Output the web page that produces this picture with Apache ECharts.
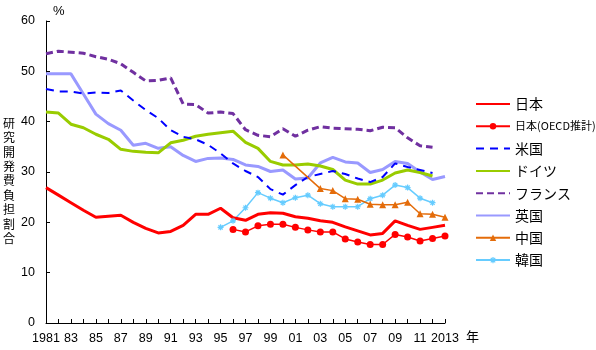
<!DOCTYPE html>
<html><head><meta charset="utf-8">
<script src="https://cdn.jsdelivr.net/npm/echarts@6/dist/echarts.min.js"></script>
<style>html,body{margin:0;padding:0;background:#fff}#c{width:596px;height:350px}</style>
</head><body><div id="c"></div>
<script>
const categories = ['1981','82','83','84','85','86','87','88','89','90','91','92','93','94','95','96','97','98','99','00','01','02','03','04','05','06','07','08','09','10','11','12','2013'];
const yTicks = [0,10,20,30,40,50,60];
const japan = [26.9,25.4,23.9,22.4,21.0,21.2,21.4,20.0,18.8,17.9,18.2,19.4,21.6,21.6,22.8,20.9,20.4,21.6,21.9,21.8,21.1,20.8,20.3,20.0,19.1,18.3,17.5,17.8,20.3,19.4,18.6,19.0,19.4];
const japanOECD = [null,null,null,null,null,null,null,null,null,null,null,null,null,null,null,18.6,18.1,19.3,19.6,19.6,19.0,18.5,18.1,18.1,16.7,16.1,15.6,15.6,17.6,17.1,16.3,16.8,17.3];
const usa = [46.5,46.0,46.0,45.6,45.8,45.7,46.2,44.2,42.3,40.7,38.3,37.0,36.5,35.4,33.7,31.7,30.2,29.0,26.6,25.5,27.4,29.0,29.6,30.2,29.6,28.7,28.0,29.0,31.7,31.0,30.4,29.8,null];
const germany = [41.9,41.7,39.5,38.8,37.5,36.5,34.5,34.1,33.9,33.8,35.8,36.3,37.1,37.5,37.8,38.1,35.9,34.7,32.1,31.4,31.4,31.6,31.2,30.5,28.4,27.6,27.6,28.4,29.8,30.4,29.9,29.2,null];
const france = [53.5,54.0,53.8,53.6,52.9,52.4,51.5,49.8,48.1,48.2,48.7,43.5,43.4,41.7,41.9,41.6,38.4,37.3,37.0,38.6,37.1,38.3,39.0,38.7,38.6,38.5,38.2,38.9,38.8,36.8,35.2,34.9,null];
const uk = [49.5,49.5,49.5,45.5,41.5,39.6,38.3,35.3,35.7,34.7,35.0,33.3,32.1,32.7,32.8,32.5,31.4,31.1,30.1,30.4,28.6,28.8,31.8,32.9,32.0,31.8,29.9,30.5,32.1,31.7,30.0,28.5,29.1];
const china = [null,null,null,null,null,null,null,null,null,null,null,null,null,null,null,null,null,null,null,33.4,null,null,26.7,26.3,24.7,24.6,23.6,23.5,23.5,24.0,21.7,21.6,21.0];
const korea = [null,null,null,null,null,null,null,null,null,null,null,null,null,null,19.0,20.3,22.9,25.9,24.8,23.9,24.9,25.4,23.7,23.1,23.1,23.1,24.7,25.4,27.4,26.9,24.8,23.9,null];
const seriesNames = ['日本','日本(OECD推計)','米国','ドイツ','フランス','英国','中国','韓国'];
const yAxisTitle = '研究開発費負担割合';

const numFont = "'Liberation Sans',Arial,sans-serif";
const jpFont = "'Noto Sans CJK JP',sans-serif";
const asterisk = 'path://M0,5L10,5M5,0L5,10M1.5,1.5L8.5,8.5M8.5,1.5L1.5,8.5';
const noSymbol = {'日本':1,'米国':1,'ドイツ':1,'フランス':1,'英国':1};

function line(name, data, color, width, type, extra) {
  return Object.assign({
    name, type: 'line', data, symbol: 'none', smooth: false, connectNulls: true,
    lineStyle: {color, width, type}, itemStyle: {color}, animation: false, z: 2
  }, extra || {});
}

function legendItem(n) {
  if (noSymbol[n]) return {name: n, itemStyle: {opacity: 0}};
  if (n === '韓国') return {name: n, itemStyle: {color: '#66ccff', borderColor: '#66ccff', borderWidth: 1.2}};
  return {name: n};
}

const chart = echarts.init(document.getElementById('c'), null, {renderer: 'canvas'});
chart.setOption({
  backgroundColor: '#ffffff',
  animation: false,
  grid: {left: 46, right: 151, top: 21, bottom: 27, containLabel: false},
  xAxis: {
    type: 'category', data: categories, boundaryGap: false,
    axisLine: {lineStyle: {color: '#000', width: 1}},
    axisTick: {inside: true, length: 4, interval: 0, lineStyle: {color: '#000'}},
    axisLabel: {interval: 1, color: '#000', fontSize: 12.5, fontFamily: numFont, margin: 9},
    splitLine: {show: false}
  },
  yAxis: {
    type: 'value', min: yTicks[0], max: yTicks[yTicks.length-1], interval: 10,
    axisLine: {show: true, lineStyle: {color: '#000', width: 1}},
    axisTick: {show: true, inside: true, length: 4, lineStyle: {color: '#000'}},
    axisLabel: {color: '#000', fontSize: 12.5, fontFamily: numFont, margin: 11},
    splitLine: {show: false}
  },
  legend: {
    orient: 'vertical', left: 470, top: 92, itemWidth: 34, itemHeight: 8, itemGap: 8.3,
    data: seriesNames.map(legendItem),
    textStyle: {color: '#000', fontSize: 14, fontFamily: jpFont, lineHeight: 14,
      rich: {s: {fontSize: 11, fontFamily: jpFont, color: '#000'}}},
    formatter: n => n === '日本(OECD推計)' ? '{s|' + n + '}' : n
  },
  graphic: [
    {type: 'text', left: 53, top: 5, style: {text: '%', fontSize: 13, fontFamily: numFont, fill: '#000'}},
    {type: 'text', left: 3, top: 116, style: {text: yAxisTitle.split('').join('\n'), fontSize: 12, lineHeight: 14.4, fontFamily: jpFont, fill: '#000'}},
    {type: 'text', left: 466, top: 330, style: {text: '年', fontSize: 13, fontFamily: jpFont, fill: '#000'}}
  ],
  series: [
    line(seriesNames[4], france, '#7030a0', 3, [7, 4]),
    line(seriesNames[5], uk, '#9999ff', 3, 'solid'),
    line(seriesNames[3], germany, '#99cc00', 3, 'solid'),
    line(seriesNames[2], usa, '#0000ff', 2, [8, 6]),
    line(seriesNames[7], korea, '#66ccff', 1.5, 'solid', {symbol: asterisk, symbolSize: 6, showSymbol: true,
      itemStyle: {color: '#66ccff', borderColor: '#66ccff', borderWidth: 1.2}}),
    line(seriesNames[6], china, '#e46c0a', 1.5, 'solid', {symbol: 'triangle', symbolSize: 7, showSymbol: true}),
    line(seriesNames[0], japan, '#ff0000', 3, 'solid'),
    line(seriesNames[1], japanOECD, '#ff0000', 1.5, 'solid', {symbol: 'circle', symbolSize: 7, showSymbol: true})
  ]
});
</script></body></html>
